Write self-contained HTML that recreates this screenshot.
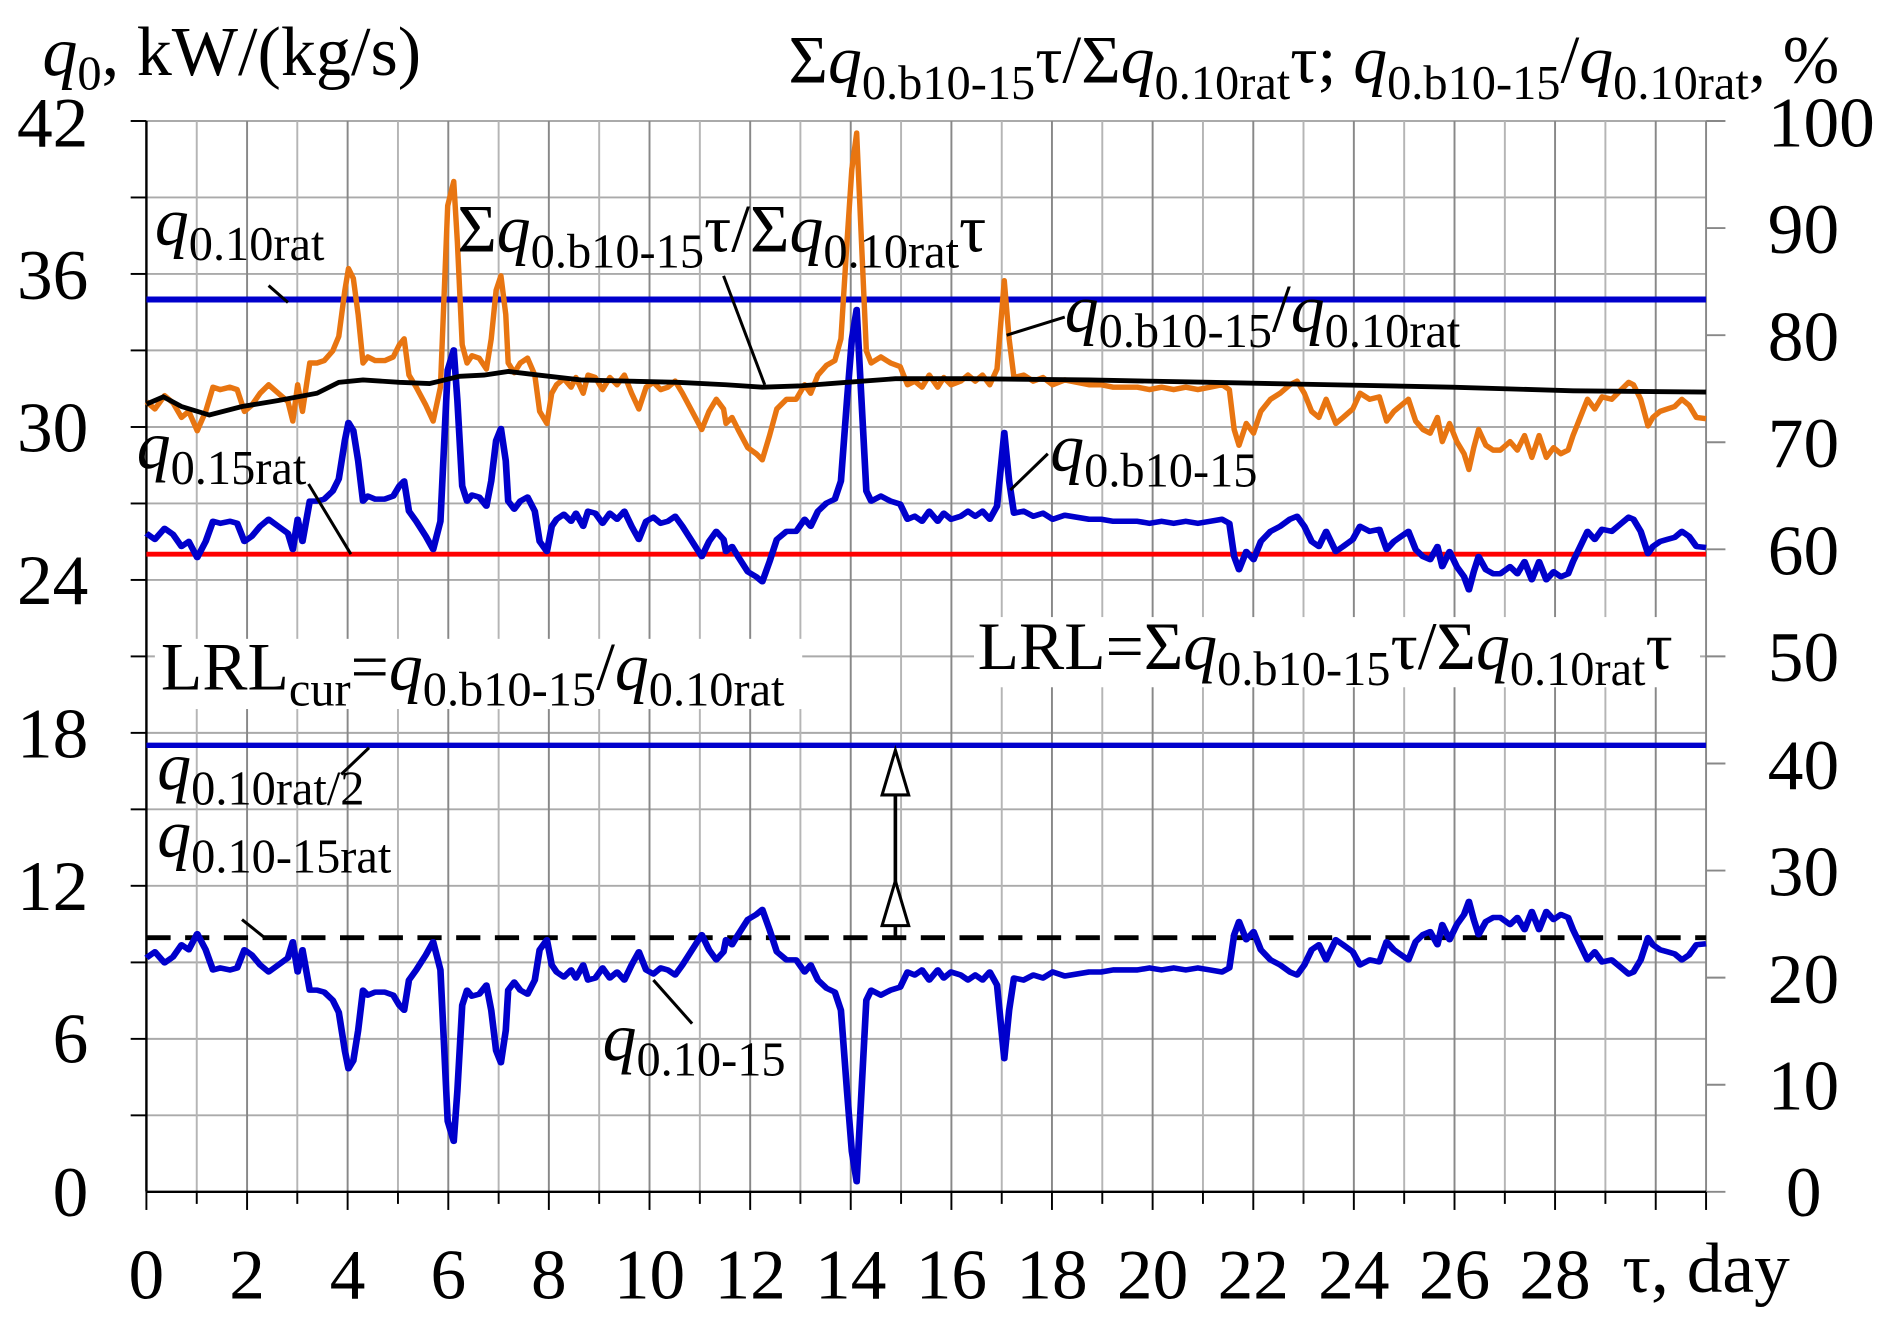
<!DOCTYPE html>
<html><head><meta charset="utf-8"><style>
html,body{margin:0;padding:0;background:#fff;}
svg{display:block;}
text{font-family:"Liberation Serif","DejaVu Serif",serif;fill:#000;}
.i{font-style:italic;}
</style></head><body>
<svg width="1897" height="1322" viewBox="0 0 1567.8 1092.6" preserveAspectRatio="none" xmlns="http://www.w3.org/2000/svg">
<defs>
<polyline id="ser" fill="none" points="121,332 128,338 136,327 143,333 150,345 156,340 163,356 170,340 176,320 182,322 190,320 196,322 202,340 208,335 215,325 222,318 230,325 238,332 242,348 246,318 250,340 256,300 262,300 268,298 275,290 280,278 285,240 288,222 292,230 296,260 300,300 304,295 310,298 318,298 325,295 330,285 334,280 338,310 344,320 352,335 358,348 364,320 370,170 375,150 378,200 382,285 386,300 390,294 396,296 402,305 406,280 410,240 414,228 418,260 420,300 425,308 430,300 436,296 442,310 446,340 452,350 456,325 460,318 466,313 472,320 476,312 482,325 486,310 492,312 498,322 504,312 510,318 516,310 522,325 528,338 534,320 540,316 546,322 552,320 558,315 564,325 572,340 580,355 586,340 592,330 598,338 600,350 605,345 610,355 618,370 625,375 630,380 636,360 642,338 650,330 658,330 665,318 670,325 676,310 683,302 690,298 695,280 700,200 704,140 708,110 712,200 716,290 720,300 728,295 736,300 744,303 750,318 756,315 762,320 768,310 775,320 780,312 786,318 794,315 800,310 806,315 812,310 818,318 824,305 830,232 834,280 838,312 846,310 854,315 862,312 870,318 880,314 890,316 900,318 910,318 920,320 930,320 940,320 950,322 960,320 970,322 980,320 990,322 1000,320 1010,318 1016,322 1020,355 1024,368 1030,350 1036,358 1042,340 1050,330 1058,325 1066,318 1072,315 1078,325 1084,340 1090,345 1096,330 1104,350 1110,345 1118,338 1124,325 1132,330 1140,328 1146,348 1152,340 1158,335 1164,330 1170,348 1176,355 1182,358 1188,345 1192,365 1198,350 1204,365 1210,375 1214,388 1218,370 1222,355 1228,368 1234,372 1240,372 1248,365 1254,372 1260,360 1266,378 1272,360 1278,378 1284,370 1290,375 1296,372 1300,360 1306,345 1312,330 1318,338 1324,328 1332,330 1340,322 1346,316 1350,318 1356,330 1362,352 1366,345 1372,340 1378,338 1384,336 1390,330 1396,335 1402,345 1410,346"/>
</defs>
<!-- grid -->
<g stroke="#aaa" stroke-width="1.6">
<line x1="121" y1="100" x2="1410" y2="100"/><line x1="121" y1="163.2" x2="1410" y2="163.2"/><line x1="121" y1="226.4" x2="1410" y2="226.4"/><line x1="121" y1="289.6" x2="1410" y2="289.6"/><line x1="121" y1="352.9" x2="1410" y2="352.9"/><line x1="121" y1="416.1" x2="1410" y2="416.1"/><line x1="121" y1="479.3" x2="1410" y2="479.3"/><line x1="121" y1="542.5" x2="1410" y2="542.5"/><line x1="121" y1="605.7" x2="1410" y2="605.7"/><line x1="121" y1="668.9" x2="1410" y2="668.9"/><line x1="121" y1="732.1" x2="1410" y2="732.1"/><line x1="121" y1="795.4" x2="1410" y2="795.4"/><line x1="121" y1="858.6" x2="1410" y2="858.6"/><line x1="121" y1="921.8" x2="1410" y2="921.8"/>
</g>
<g stroke-width="1.6">
<line stroke="#b5b5b5" x1="162.6" y1="100" x2="162.6" y2="985"/><line stroke="#888" x1="204.2" y1="100" x2="204.2" y2="985"/><line stroke="#b5b5b5" x1="245.7" y1="100" x2="245.7" y2="985"/><line stroke="#888" x1="287.3" y1="100" x2="287.3" y2="985"/><line stroke="#b5b5b5" x1="328.9" y1="100" x2="328.9" y2="985"/><line stroke="#888" x1="370.5" y1="100" x2="370.5" y2="985"/><line stroke="#b5b5b5" x1="412.1" y1="100" x2="412.1" y2="985"/><line stroke="#888" x1="453.6" y1="100" x2="453.6" y2="985"/><line stroke="#b5b5b5" x1="495.2" y1="100" x2="495.2" y2="985"/><line stroke="#888" x1="536.8" y1="100" x2="536.8" y2="985"/><line stroke="#b5b5b5" x1="578.4" y1="100" x2="578.4" y2="985"/><line stroke="#888" x1="620" y1="100" x2="620" y2="985"/><line stroke="#b5b5b5" x1="661.5" y1="100" x2="661.5" y2="985"/><line stroke="#888" x1="703.1" y1="100" x2="703.1" y2="985"/><line stroke="#b5b5b5" x1="744.7" y1="100" x2="744.7" y2="985"/><line stroke="#888" x1="786.3" y1="100" x2="786.3" y2="985"/><line stroke="#b5b5b5" x1="827.9" y1="100" x2="827.9" y2="985"/><line stroke="#888" x1="869.4" y1="100" x2="869.4" y2="985"/><line stroke="#b5b5b5" x1="911" y1="100" x2="911" y2="985"/><line stroke="#888" x1="952.6" y1="100" x2="952.6" y2="985"/><line stroke="#b5b5b5" x1="994.2" y1="100" x2="994.2" y2="985"/><line stroke="#888" x1="1035.8" y1="100" x2="1035.8" y2="985"/><line stroke="#b5b5b5" x1="1077.3" y1="100" x2="1077.3" y2="985"/><line stroke="#888" x1="1118.9" y1="100" x2="1118.9" y2="985"/><line stroke="#b5b5b5" x1="1160.5" y1="100" x2="1160.5" y2="985"/><line stroke="#888" x1="1202.1" y1="100" x2="1202.1" y2="985"/><line stroke="#b5b5b5" x1="1243.7" y1="100" x2="1243.7" y2="985"/><line stroke="#888" x1="1285.2" y1="100" x2="1285.2" y2="985"/><line stroke="#b5b5b5" x1="1326.8" y1="100" x2="1326.8" y2="985"/><line stroke="#888" x1="1368.4" y1="100" x2="1368.4" y2="985"/><line stroke="#888" x1="1410" y1="100" x2="1410" y2="985"/>
</g>
<!-- white label backgrounds -->
<rect x="128" y="528" width="535" height="58" fill="#fff"/>
<rect x="805" y="510" width="600" height="58" fill="#fff"/>
<!-- axes -->
<line x1="121" y1="100" x2="121" y2="985" stroke="#000" stroke-width="2"/>
<line x1="121" y1="985" x2="1410" y2="985" stroke="#000" stroke-width="2"/>
<g stroke="#000" stroke-width="1.6">
<line x1="108" y1="100" x2="121" y2="100"/><line x1="108" y1="163.2" x2="121" y2="163.2"/><line x1="108" y1="226.4" x2="121" y2="226.4"/><line x1="108" y1="289.6" x2="121" y2="289.6"/><line x1="108" y1="352.9" x2="121" y2="352.9"/><line x1="108" y1="416.1" x2="121" y2="416.1"/><line x1="108" y1="479.3" x2="121" y2="479.3"/><line x1="108" y1="542.5" x2="121" y2="542.5"/><line x1="108" y1="605.7" x2="121" y2="605.7"/><line x1="108" y1="668.9" x2="121" y2="668.9"/><line x1="108" y1="732.1" x2="121" y2="732.1"/><line x1="108" y1="795.4" x2="121" y2="795.4"/><line x1="108" y1="858.6" x2="121" y2="858.6"/><line x1="108" y1="921.8" x2="121" y2="921.8"/>
</g>
<g stroke="#888" stroke-width="1.6">
<line x1="1410" y1="100" x2="1426" y2="100"/><line x1="1410" y1="188.5" x2="1426" y2="188.5"/><line x1="1410" y1="277" x2="1426" y2="277"/><line x1="1410" y1="365.5" x2="1426" y2="365.5"/><line x1="1410" y1="454" x2="1426" y2="454"/><line x1="1410" y1="542.5" x2="1426" y2="542.5"/><line x1="1410" y1="631" x2="1426" y2="631"/><line x1="1410" y1="719.5" x2="1426" y2="719.5"/><line x1="1410" y1="808" x2="1426" y2="808"/><line x1="1410" y1="896.5" x2="1426" y2="896.5"/><line x1="1410" y1="985" x2="1426" y2="985"/>
</g>
<g stroke="#000" stroke-width="1.6">
<line x1="121" y1="985" x2="121" y2="1000"/><line x1="162.6" y1="985" x2="162.6" y2="995"/><line x1="204.2" y1="985" x2="204.2" y2="1000"/><line x1="245.7" y1="985" x2="245.7" y2="995"/><line x1="287.3" y1="985" x2="287.3" y2="1000"/><line x1="328.9" y1="985" x2="328.9" y2="995"/><line x1="370.5" y1="985" x2="370.5" y2="1000"/><line x1="412.1" y1="985" x2="412.1" y2="995"/><line x1="453.6" y1="985" x2="453.6" y2="1000"/><line x1="495.2" y1="985" x2="495.2" y2="995"/><line x1="536.8" y1="985" x2="536.8" y2="1000"/><line x1="578.4" y1="985" x2="578.4" y2="995"/><line x1="620" y1="985" x2="620" y2="1000"/><line x1="661.5" y1="985" x2="661.5" y2="995"/><line x1="703.1" y1="985" x2="703.1" y2="1000"/><line x1="744.7" y1="985" x2="744.7" y2="995"/><line x1="786.3" y1="985" x2="786.3" y2="1000"/><line x1="827.9" y1="985" x2="827.9" y2="995"/><line x1="869.4" y1="985" x2="869.4" y2="1000"/><line x1="911" y1="985" x2="911" y2="995"/><line x1="952.6" y1="985" x2="952.6" y2="1000"/><line x1="994.2" y1="985" x2="994.2" y2="995"/><line x1="1035.8" y1="985" x2="1035.8" y2="1000"/><line x1="1077.3" y1="985" x2="1077.3" y2="995"/><line x1="1118.9" y1="985" x2="1118.9" y2="1000"/><line x1="1160.5" y1="985" x2="1160.5" y2="995"/><line x1="1202.1" y1="985" x2="1202.1" y2="1000"/><line x1="1243.7" y1="985" x2="1243.7" y2="995"/><line x1="1285.2" y1="985" x2="1285.2" y2="1000"/><line x1="1326.8" y1="985" x2="1326.8" y2="995"/><line x1="1368.4" y1="985" x2="1368.4" y2="1000"/><line x1="1410" y1="985" x2="1410" y2="1000"/>
</g>
<!-- constant lines -->
<line x1="121" y1="247.5" x2="1410" y2="247.5" stroke="#0000cc" stroke-width="5"/>
<line x1="121" y1="458" x2="1410" y2="458" stroke="#ff0000" stroke-width="4"/>
<line x1="121" y1="616" x2="1410" y2="616" stroke="#0000cc" stroke-width="4.5"/>
<line x1="121" y1="775" x2="1410" y2="775" stroke="#000" stroke-width="4" stroke-dasharray="20,12"/>
<!-- series -->
<use href="#ser" stroke="#e87511" stroke-width="4.5" stroke-linejoin="round"/>
<g transform="matrix(1 0 0 0.8333 0 164.17)"><use href="#ser" stroke="#0000cc" stroke-width="5.5" stroke-linejoin="round" vector-effect="non-scaling-stroke" style="vector-effect:non-scaling-stroke"/></g>
<g transform="matrix(1 0 0 -0.8333 0 1068.3)"><use href="#ser" stroke="#0000cc" stroke-width="5.5" stroke-linejoin="round" vector-effect="non-scaling-stroke" style="vector-effect:non-scaling-stroke"/></g>
<polyline fill="none" stroke="#000" stroke-width="4" points="121,334 135,328 150,336 173,343 200,336 230,331 262,325 280,316 300,314 330,316 355,317 380,311 400,310 420,307 445,310 480,314 520,315 560,316 600,318 630,320 660,319 700,316 740,313 800,313 900,314 1000,316 1100,318 1200,320 1300,323 1410,324"/>
<!-- arrow -->
<line x1="740" y1="775" x2="740" y2="650" stroke="#000" stroke-width="3"/>
<polygon points="740,620 729,657 751,657" fill="#fff" stroke="#000" stroke-width="2.5"/>
<polygon points="740,728 729,765 751,765" fill="#fff" stroke="#000" stroke-width="2.5"/>
<!-- leader lines -->
<g stroke="#000" stroke-width="2.5">
<line x1="222" y1="236" x2="238" y2="250"/>
<line x1="598" y1="228" x2="632" y2="318"/>
<line x1="832" y1="277" x2="880" y2="262"/>
<line x1="255" y1="400" x2="290" y2="458"/>
<line x1="835" y1="405" x2="866" y2="375"/>
<line x1="282" y1="640" x2="305" y2="618"/>
<line x1="200" y1="760" x2="220" y2="776"/>
<line x1="572" y1="846" x2="540" y2="810"/>
</g>
<!-- tick labels -->
<g font-size="59" text-anchor="end">
<text x="73" y="121">42</text><text x="73" y="247">36</text><text x="73" y="373">30</text><text x="73" y="499">24</text><text x="73" y="626">18</text><text x="73" y="752">12</text><text x="73" y="878">6</text><text x="73" y="1005">0</text>
</g>
<g font-size="59" text-anchor="start">
<text x="1461" y="121">100</text><text x="1461" y="209">90</text><text x="1461" y="298">80</text><text x="1461" y="386">70</text><text x="1461" y="475">60</text><text x="1461" y="563">50</text><text x="1461" y="652">40</text><text x="1461" y="740">30</text><text x="1461" y="829">20</text><text x="1461" y="917">10</text><text x="1476" y="1005">0</text>
</g>
<g font-size="59" text-anchor="middle">
<text x="121" y="1073">0</text><text x="204.2" y="1073">2</text><text x="287.3" y="1073">4</text><text x="370.5" y="1073">6</text><text x="453.6" y="1073">8</text><text x="536.8" y="1073">10</text><text x="620" y="1073">12</text><text x="703.1" y="1073">14</text><text x="786.3" y="1073">16</text><text x="869.4" y="1073">18</text><text x="952.6" y="1073">20</text><text x="1035.8" y="1073">22</text><text x="1118.9" y="1073">24</text><text x="1202.1" y="1073">26</text><text x="1285.2" y="1073">28</text>
<text x="1410" y="1068">τ, day</text>
</g>
<!-- titles -->
<text x="35" y="62" font-size="58"><tspan class="i">q</tspan><tspan font-size="40" dy="12">0</tspan><tspan dy="-12">, kW/(kg/s)</tspan></text>
<text x="1520" y="68" font-size="56" text-anchor="end">Σ<tspan class="i">q</tspan><tspan font-size="40" dy="14">0.b10-15</tspan><tspan dy="-14">τ/Σ</tspan><tspan class="i">q</tspan><tspan font-size="40" dy="14">0.10rat</tspan><tspan dy="-14">τ; </tspan><tspan class="i">q</tspan><tspan font-size="40" dy="14">0.b10-15</tspan><tspan dy="-14">/</tspan><tspan class="i">q</tspan><tspan font-size="40" dy="14">0.10rat</tspan><tspan dy="-14">, %</tspan></text>
<!-- annotations -->
<g font-size="56">
<text x="128" y="202"><tspan class="i">q</tspan><tspan font-size="40" dy="13">0.10rat</tspan></text>
<text x="378" y="208">Σ<tspan class="i">q</tspan><tspan font-size="40" dy="13">0.b10-15</tspan><tspan dy="-13">τ/Σ</tspan><tspan class="i">q</tspan><tspan font-size="40" dy="13">0.10rat</tspan><tspan dy="-13">τ</tspan></text>
<text x="880" y="274"><tspan class="i">q</tspan><tspan font-size="40" dy="13">0.b10-15</tspan><tspan dy="-13">/</tspan><tspan class="i">q</tspan><tspan font-size="40" dy="13">0.10rat</tspan></text>
<text x="113" y="387"><tspan class="i">q</tspan><tspan font-size="40" dy="13">0.15rat</tspan></text>
<text x="868" y="389"><tspan class="i">q</tspan><tspan font-size="40" dy="13">0.b10-15</tspan></text>
<text x="133" y="570">LRL<tspan font-size="40" dy="13">cur</tspan><tspan dy="-13">=</tspan><tspan class="i">q</tspan><tspan font-size="40" dy="13">0.b10-15</tspan><tspan dy="-13">/</tspan><tspan class="i">q</tspan><tspan font-size="40" dy="13">0.10rat</tspan></text>
<text x="808" y="553">LRL=Σ<tspan class="i">q</tspan><tspan font-size="40" dy="13">0.b10-15</tspan><tspan dy="-13">τ/Σ</tspan><tspan class="i">q</tspan><tspan font-size="40" dy="13">0.10rat</tspan><tspan dy="-13">τ</tspan></text>
<text x="130" y="652"><tspan class="i">q</tspan><tspan font-size="40" dy="13">0.10rat/2</tspan></text>
<text x="130" y="708"><tspan class="i">q</tspan><tspan font-size="40" dy="13">0.10-15rat</tspan></text>
<text x="498" y="876"><tspan class="i">q</tspan><tspan font-size="40" dy="13">0.10-15</tspan></text>
</g>
</svg>
</body></html>
